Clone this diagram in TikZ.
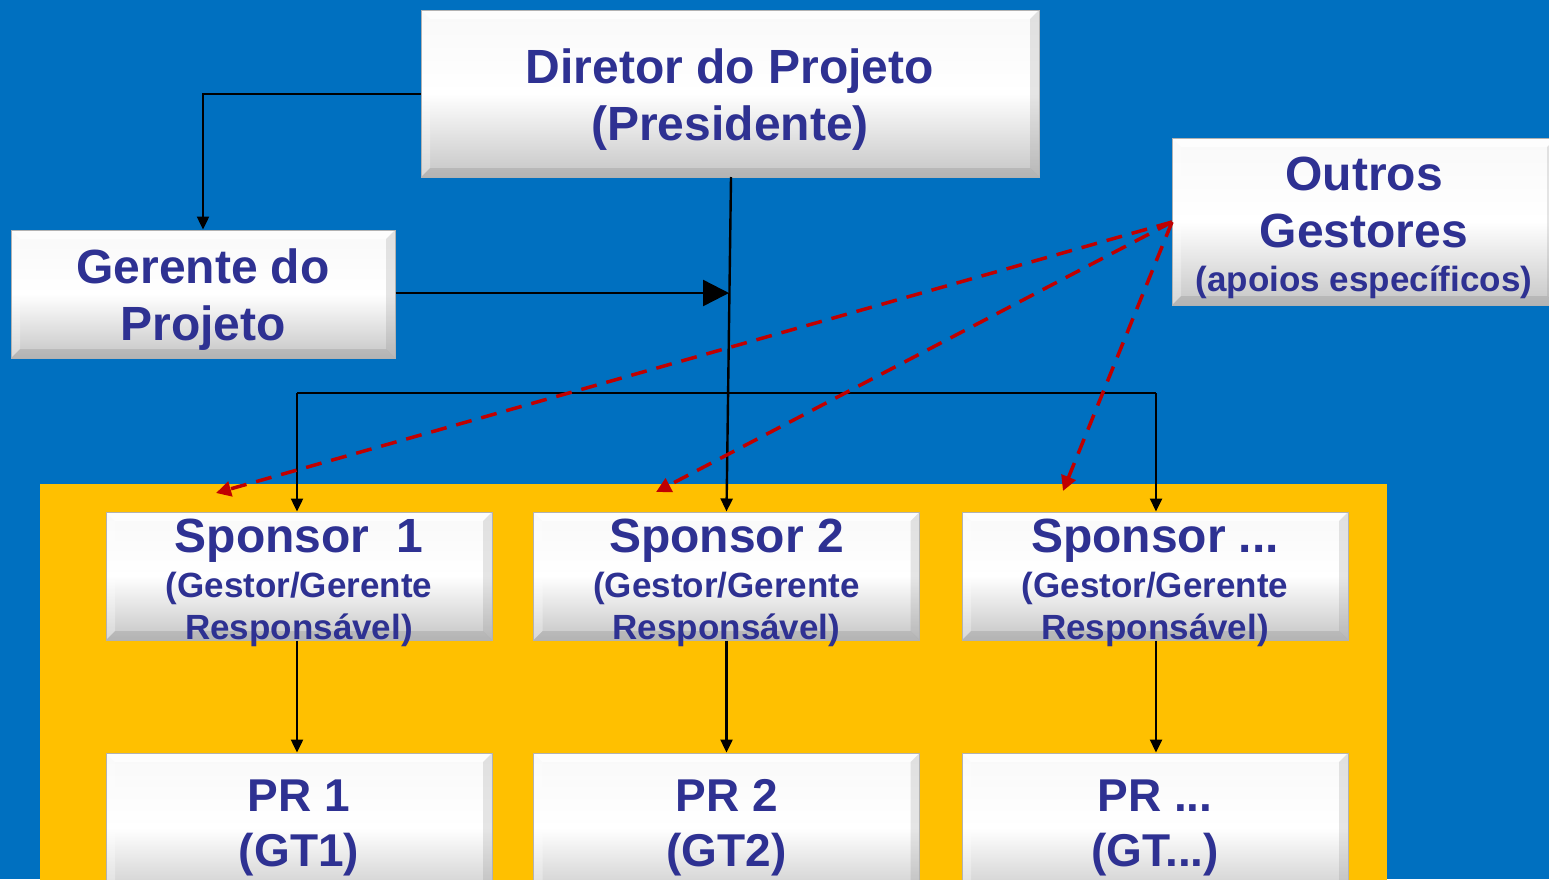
\documentclass[tikz,border=0pt]{standalone}
\usepackage{fontspec}
\setmainfont{Liberation Sans}
\usetikzlibrary{arrows.meta}
\definecolor{bgblue}{HTML}{0070C0}
\definecolor{bgyellow}{HTML}{FFC000}
\definecolor{txtblue}{HTML}{2E3192}
\definecolor{dashred}{HTML}{C00000}
\tikzset{
  box/.style={rectangle, draw=gray!60, line width=1pt, top color=gray!5, bottom color=gray!45, middle color=white, inner sep=0pt,
    path picture={
      \coordinate (NW) at (path picture bounding box.north west);
      \coordinate (NE) at (path picture bounding box.north east);
      \coordinate (SW) at (path picture bounding box.south west);
      \coordinate (SE) at (path picture bounding box.south east);
      \coordinate (nw) at ([xshift=9pt,yshift=-9pt]NW);
      \coordinate (ne) at ([xshift=-9pt,yshift=-9pt]NE);
      \coordinate (sw) at ([xshift=9pt,yshift=9pt]SW);
      \coordinate (se) at ([xshift=-9pt,yshift=9pt]SE);
      \fill[white, opacity=0.7] (NW) -- (NE) -- (ne) -- (nw) -- cycle;
      \fill[white, opacity=0.3] (NW) -- (nw) -- (sw) -- (SW) -- cycle;
      \fill[gray, opacity=0.2] (NE) -- (ne) -- (se) -- (SE) -- cycle;
      \fill[gray, opacity=0.25] (SW) -- (sw) -- (se) -- (SE) -- cycle;
    }},
  lbl/.style={text=txtblue, align=center, inner sep=0pt},
  bigtxt/.style={lbl, font=\bfseries\fontsize{48}{57}\selectfont},
  sptxt/.style={lbl, font=\bfseries\fontsize{35}{42}\selectfont},
  prtxt/.style={lbl, font=\bfseries\fontsize{46}{55}\selectfont},
  spbox/.style={box, minimum width=386pt, minimum height=128pt},
  prbox/.style={box, minimum width=386pt, minimum height=150pt},
  conn/.style={line width=2.4pt, draw=black, -{Triangle[length=13pt,width=12pt]}},
  plain/.style={line width=2.4pt, draw=black},
  reddash/.style={line width=3.5pt, draw=dashred, dash pattern=on 16pt off 10pt, -{Triangle[length=15pt,width=15pt,fill=dashred]}}
}
\newcommand{\sphead}[1]{{\fontsize{48}{50}\selectfont #1}}
\begin{document}
\begin{tikzpicture}[x=1pt,y=-1pt]
\useasboundingbox (0,0) rectangle (1549,879);
\clip (0,0) rectangle (1549,879);
\fill[bgblue] (0,0) rectangle (1549,879);
\fill[bgyellow] (40,484) rectangle (1387,900);

\node[box, minimum width=618pt, minimum height=167pt] (dir) at (730,93.5) {};
\node[bigtxt] (dirt) at ([yshift=-6pt]dir.center) {Diretor do Projeto\\(Presidente)};
\node[box, minimum width=384pt, minimum height=128pt] (ger) at (203,294) {};
\node[bigtxt] (gert) at ([yshift=-6pt]ger.center) {Gerente do\\Projeto};
\node[box, minimum width=384pt, minimum height=167pt] (out) at (1364,221.5) {};
\node[bigtxt] (outt) at ([yshift=-6pt]out.center) {Outros\\Gestores\\[-13pt]{\fontsize{35}{40}\selectfont (apoios específicos)}};

\node[spbox] (sp1) at (299,576) {};
\node[spbox] (sp2) at (726.5,576) {};
\node[spbox] (sp3) at (1155,576) {};
\node[sptxt] (sp1t) at ([yshift=-7pt]sp1.center) {\sphead{Sponsor\ \ 1}\\[3pt](Gestor/Gerente\\Responsável)};
\node[sptxt] (sp2t) at ([yshift=-7pt]sp2.center) {\sphead{Sponsor 2}\\[3pt](Gestor/Gerente\\Responsável)};
\node[sptxt] (sp3t) at ([yshift=-7pt]sp3.center) {\sphead{Sponsor ...}\\[3pt](Gestor/Gerente\\Responsável)};

\node[prbox] (pr1) at (299,828) {};
\node[prbox] (pr2) at (726.5,828) {};
\node[prbox] (pr3) at (1155,828) {};
\node[prtxt] (pr1t) at (pr1.center) {PR 1\\(GT1)};
\node[prtxt] (pr2t) at (pr2.center) {PR 2\\(GT2)};
\node[prtxt] (pr3t) at (pr3.center) {PR ...\\(GT...)};

% connectors
\coordinate (dl) at (203,94);
\draw[conn] (dir.west |- dl) -| (ger.north);
\coordinate (dd) at (731,177);
\draw[conn] (dd) -- (sp2.north);
\coordinate (gm) at (729,293);
\draw[line width=2.4pt, -{Triangle[length=26pt,width=26pt]}] (ger.east |- gm) -- (gm);
\coordinate (busL) at (297,393);
\coordinate (busR) at (1156,393);
\draw[plain] (busL) -- (busR);
\draw[conn] (busL) -- (sp1.north -| busL);
\draw[conn] (busR) -- (sp3.north -| busR);
\draw[conn] (sp1.south -| busL) -- (pr1.north -| busL);
\draw[conn] (sp2.south) -- (pr2.north);
\draw[conn] (sp3.south -| busR) -- (pr3.north -| busR);

\coordinate (rs) at (1172,222);
\coordinate (r1) at (216,493);
\coordinate (r2) at (656,492);
\coordinate (r3) at (1063,491);
\draw[reddash] (rs) -- (r1);
\draw[reddash] (rs) -- (r2);
\draw[reddash] (rs) -- (r3);
\end{tikzpicture}
\end{document}
